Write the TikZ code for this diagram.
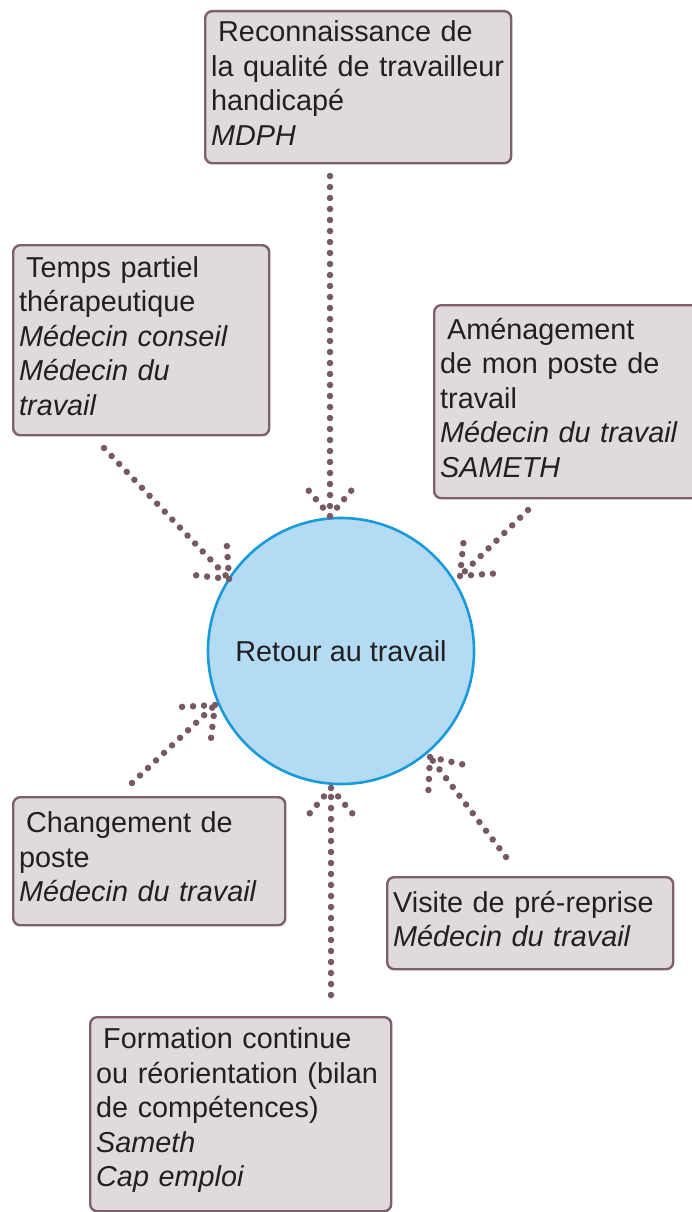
\documentclass[tikz,border=0pt]{standalone}
\usepackage{fontspec}
\setmainfont{Liberation Sans}
\usetikzlibrary{calc}
\definecolor{boxf}{HTML}{E0DADC}
\definecolor{boxc}{HTML}{7D6070}
\definecolor{dotc}{HTML}{765866}
\definecolor{circf}{HTML}{B3DBF3}
\definecolor{circc}{HTML}{1B9AD8}
\definecolor{txt}{HTML}{231F20}
\tikzset{
  box/.style={draw=boxc, line width=2.4pt, fill=boxf, rounded corners=7pt,
    anchor=north west, align=left, inner xsep=6pt, inner ysep=0pt,
    execute at end node={\par\vspace*{8pt}},
    text=txt, font=\fontsize{28.8}{34.5}\selectfont},
  dots/.style={draw=dotc, line width=6.5pt, line cap=round, dash pattern=on 0pt off 11pt},
  dotarrow/.style={dots, to path={(\tikztostart) -- (\tikztotarget)
     (\tikztotarget) -- ($(\tikztotarget)!40pt!40:(\tikztostart)$)
     (\tikztotarget) -- ($(\tikztotarget)!40pt!-40:(\tikztostart)$)}}
}
\begin{document}
\begin{tikzpicture}[x=1pt,y=-1pt]
\useasboundingbox (0,0) rectangle (692,1212);
% centre
\node[circle, draw=circc, line width=2.6pt, fill=circf, minimum size=266pt, inner sep=0pt,
  text=txt, font=\fontsize{28.8}{34.5}\selectfont] (c) at (341,651) {Retour au travail};
% boxes
\node[box, text width=294pt, minimum height=152pt] (b1) at (204,10)
 {\hspace*{7pt}Reconnaissance de\\la qualité de travailleur\\handicapé\\\textit{MDPH}};
\node[box, text width=244pt, minimum height=190pt] (b2) at (12,244)
 {\hspace*{7pt}Temps partiel\\thérapeutique\\\textit{Médecin conseil}\\\textit{Médecin du}\\\textit{travail}};
\node[box, text width=255pt, minimum height=193pt] (b3) at (433,304)
 {\hspace*{7pt}Aménagement\\de mon poste de\\travail\\\textit{Médecin du travail}\\\textit{SAMETH}};
\node[box, text width=260pt, minimum height=128pt] (b4) at (12,796)
 {\hspace*{7pt}Changement de\\poste\\\textit{Médecin du travail}};
\node[box, text width=274pt, minimum height=92pt] (b5) at (386,876)
 {Visite de pré-reprise\\\textit{Médecin du travail}};
\node[box, text width=289pt, minimum height=194pt] (b6) at (89,1016)
 {\hspace*{7pt}Formation continue\\ou réorientation (bilan\\de compétences)\\\textit{Sameth}\\\textit{Cap emploi}};
% arrow ends
\coordinate (s1) at (330,176);  \coordinate (t1) at (330,516);
\coordinate (s2) at (104,448);  \coordinate (t2) at (229,579);
\coordinate (s3) at (528,510);  \coordinate (t3) at (460,576);
\coordinate (s4) at (132,783);  \coordinate (t4) at (215,705);
\coordinate (s5) at (331,995);  \coordinate (t5) at (331,788);
\coordinate (s6) at (506,857);  \coordinate (t6) at (430,757);
\foreach \i in {1,...,6} \draw[dotarrow] (s\i) to (t\i);
\end{tikzpicture}
\end{document}
